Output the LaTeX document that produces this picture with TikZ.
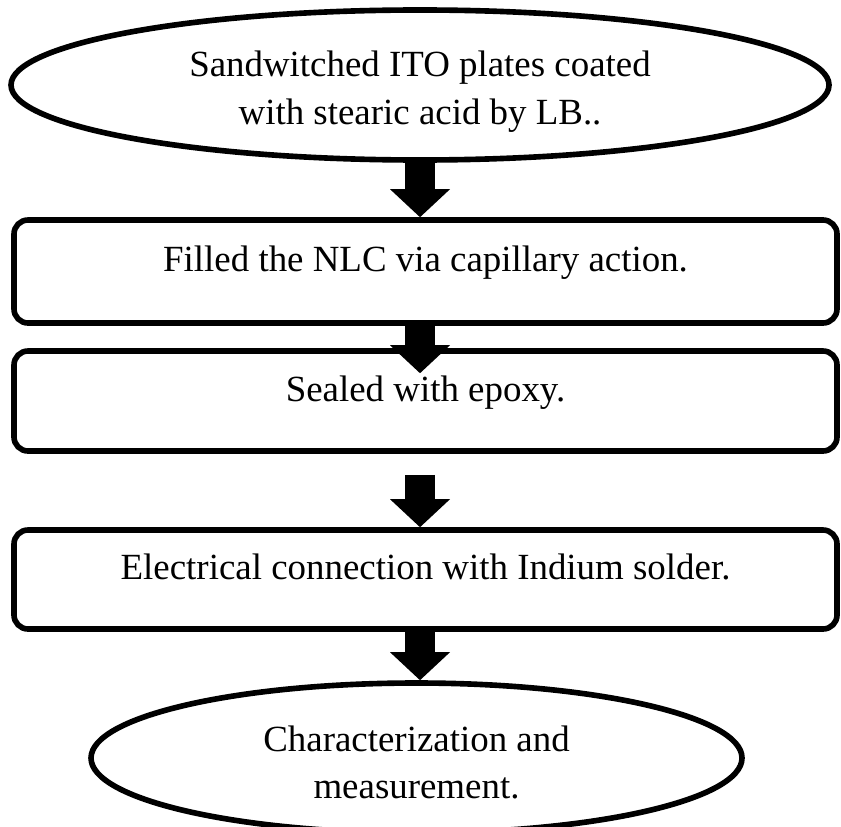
\documentclass[tikz,border=0pt]{standalone}
\usepackage{fontspec}
\setmainfont{Liberation Serif}
\usepackage{tikz}
\usetikzlibrary{shapes.geometric,arrows.meta}

\begin{document}
\begin{tikzpicture}
		[every node/.style={font=\fontsize{10.5pt}{13.5pt}\selectfont},
		 oval/.style={draw, ellipse, line width=1.6pt, inner sep=0pt, text height=0pt},
		 stepbox/.style={draw, rectangle, rounded corners=0.14cm, line width=1.6pt,
		 	minimum width=8.23cm, inner sep=0pt, text height=0pt, text depth=0pt},
		 bigarrow/.style={line width=0.3cm, -{Triangle[width=0.6cm, length=0.28cm, line width=0pt]}}]
	\useasboundingbox (0,0) rectangle (8.41,-8.26);
	\node [oval, minimum width=8.18cm, minimum height=1.5cm, text depth=0.16cm] (ito) at (4.2,-0.85)
		{\begin{tabular}[t]{@{}c@{}}Sandwitched ITO plates coated\\with stearic acid by LB..\end{tabular}};
	\node [stepbox, minimum height=1.03cm] (fill) at (4.255,-2.715) {Filled the NLC via capillary action.};
	\node [stepbox, minimum height=1.0cm] (seal) at (4.255,-4.01) {Sealed with epoxy.};
	\node [stepbox, minimum height=0.99cm] (elec) at (4.255,-5.795) {Electrical connection with Indium solder.};
	\node [oval, minimum width=6.51cm, minimum height=1.5cm, text depth=0.14cm] (meas) at (4.165,-7.58)
		{\begin{tabular}[t]{@{}c@{}}Characterization and\\measurement.\end{tabular}};
	\draw [bigarrow] (ito.south) -- (ito.south |- fill.north);
	\draw [bigarrow] (ito.south |- fill.south) -- ([yshift=-0.25cm]ito.south |- seal.north);
	\draw [bigarrow] ([yshift=-0.21cm]ito.south |- seal.south) -- (ito.south |- elec.north);
	\draw [bigarrow] (ito.south |- elec.south) -- (ito.south |- meas.north);
\end{tikzpicture}
\end{document}
